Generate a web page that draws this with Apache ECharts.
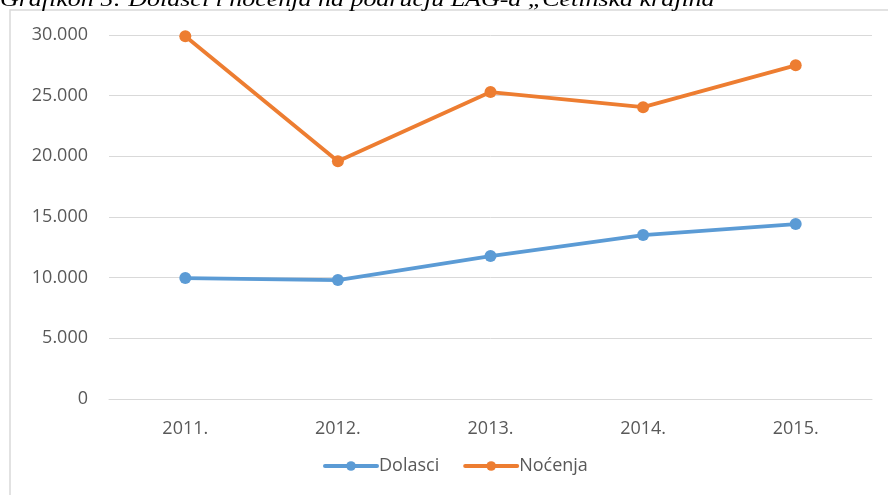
<!DOCTYPE html>
<html>
<head>
<meta charset="utf-8">
<script src="https://cdn.jsdelivr.net/npm/echarts@6/dist/echarts.min.js"></script>
<style>
  html, body { margin: 0; padding: 0; background: #fff; }
  #main { width: 888px; height: 495px; }
</style>
</head>
<body>
<div id="main"></div>
<script>
// podaci
var godine = ['2011.', '2012.', '2013.', '2014.', '2015.'];
var dolasci = [9970, 9800, 11780, 13510, 14420];
var nocenja = [29900, 19600, 25300, 24050, 27500];
var naslov = 'Grafikon 5: Dolasci i noćenja na području LAG-a „Cetinska krajina"';

var font = '"Open Sans", sans-serif';

function tisuce(v) {
    return String(v).replace(/\B(?=(\d{3})+(?!\d))/g, '.');
}

var chart = echarts.init(document.getElementById('main'));
chart.setOption({
    animation: false,
    backgroundColor: '#fff',
    graphic: [
        {
            type: 'rect',
            shape: { x: 10, y: 10, width: 900, height: 500 },
            style: { fill: 'none', stroke: '#d9d9d9', lineWidth: 1.5 }
        },
        {
            type: 'text',
            x: 0,
            y: -11,
            scaleX: 1.18,
            style: {
                text: naslov,
                font: 'italic 22px "Liberation Serif", serif',
                fill: '#000'
            }
        }
    ],
    grid: { left: 109, right: 16, top: 35, bottom: 96 },
    xAxis: {
        type: 'category',
        data: godine,
        boundaryGap: true,
        axisLine: { lineStyle: { color: '#d9d9d9' } },
        axisTick: { show: false },
        axisLabel: { color: '#595959', fontFamily: font, fontSize: 18, margin: 21 }
    },
    yAxis: {
        type: 'value',
        min: 0,
        max: 30000,
        interval: 5000,
        axisLine: { show: false },
        axisTick: { show: false },
        splitLine: { lineStyle: { color: '#d9d9d9', width: 1 } },
        axisLabel: {
            color: '#595959', fontFamily: font, fontSize: 18, margin: 21,
            formatter: tisuce
        }
    },
    legend: {
        left: 323,
        top: 457,
        padding: 0,
        itemWidth: 52,
        itemHeight: 12,
        itemGap: 24,
        lineStyle: { width: 4 },
        textStyle: { color: '#595959', fontFamily: font, fontSize: 18, padding: [0, 0, 0, -3] },
        data: ['Dolasci', 'Noćenja']
    },
    series: [
        {
            name: 'Dolasci',
            type: 'line',
            data: dolasci,
            color: '#5b9bd5',
            symbol: 'circle',
            symbolSize: 12,
            lineStyle: { width: 3.8, cap: 'round', join: 'round' }
        },
        {
            name: 'Noćenja',
            type: 'line',
            data: nocenja,
            color: '#ed7d31',
            symbol: 'circle',
            symbolSize: 12,
            lineStyle: { width: 3.8, cap: 'round', join: 'round' }
        }
    ]
});
</script>
</body>
</html>
